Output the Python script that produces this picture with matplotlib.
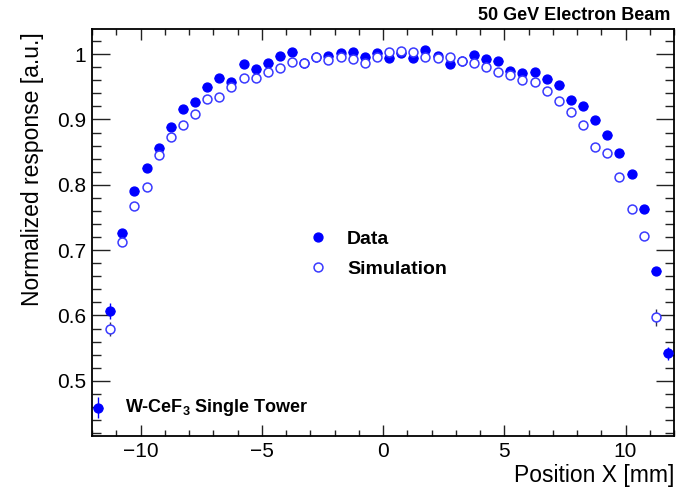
import matplotlib
matplotlib.use("Agg")
import matplotlib.pyplot as plt
from matplotlib.ticker import MultipleLocator

plt.rcParams['font.family'] = ['Liberation Sans', 'DejaVu Sans']
plt.rcParams['mathtext.fontset'] = 'custom'
plt.rcParams['mathtext.rm'] = 'Liberation Sans:bold'
plt.rcParams['mathtext.bf'] = 'Liberation Sans:bold'

# ---- data ----
data_x = [-11.75, -11.25, -10.75, -10.25, -9.75, -9.25, -8.75, -8.25, -7.75, -7.25,
          -6.75, -6.25, -5.75, -5.25, -4.75, -4.25, -3.75, -3.25, -2.75, -2.25,
          -1.75, -1.25, -0.75, -0.25, 0.25, 0.75, 1.25, 1.75, 2.25, 2.75,
          3.25, 3.75, 4.25, 4.75, 5.25, 5.75, 6.25, 6.75, 7.25, 7.75,
          8.25, 8.75, 9.25, 9.75, 10.25, 10.75, 11.25, 11.75]
data_y = [0.459, 0.607, 0.726, 0.790, 0.825, 0.857, 0.889, 0.916, 0.926, 0.949,
          0.963, 0.957, 0.985, 0.977, 0.986, 0.997, 1.003, 0.986, 0.995, 0.997,
          1.002, 1.004, 0.995, 1.002, 0.994, 1.002, 0.994, 1.006, 0.997, 0.985,
          0.990, 0.999, 0.993, 0.990, 0.974, 0.971, 0.972, 0.962, 0.953, 0.930,
          0.921, 0.899, 0.876, 0.848, 0.817, 0.763, 0.668, 0.542]
data_err = [0.016, 0.012, 0.007, 0.004, 0.004, 0.004, 0.004, 0.004, 0.004, 0.004,
            0.004, 0.004, 0.004, 0.004, 0.004, 0.004, 0.004, 0.004, 0.004, 0.004,
            0.004, 0.004, 0.004, 0.004, 0.004, 0.004, 0.004, 0.004, 0.004, 0.004,
            0.004, 0.004, 0.004, 0.004, 0.004, 0.004, 0.004, 0.004, 0.004, 0.004,
            0.004, 0.004, 0.004, 0.004, 0.004, 0.005, 0.006, 0.010]

sim_x = [-11.25, -10.75, -10.25, -9.75, -9.25, -8.75, -8.25, -7.75, -7.25,
         -6.75, -6.25, -5.75, -5.25, -4.75, -4.25, -3.75, -3.25, -2.75, -2.25,
         -1.75, -1.25, -0.75, -0.25, 0.25, 0.75, 1.25, 1.75, 2.25, 2.75,
         3.25, 3.75, 4.25, 4.75, 5.25, 5.75, 6.25, 6.75, 7.25, 7.75,
         8.25, 8.75, 9.25, 9.75, 10.25, 10.75, 11.25]
sim_y = [0.579, 0.713, 0.767, 0.797, 0.846, 0.873, 0.892, 0.908, 0.931,
         0.935, 0.950, 0.964, 0.964, 0.972, 0.979, 0.988, 0.986, 0.995, 0.991,
         0.996, 0.992, 0.986, 0.996, 1.003, 1.005, 1.003, 0.996, 0.994, 0.995,
         0.990, 0.986, 0.981, 0.972, 0.968, 0.961, 0.957, 0.944, 0.929, 0.911,
         0.892, 0.858, 0.849, 0.812, 0.763, 0.721, 0.597]
sim_err = [0.011, 0.006, 0.003, 0.003, 0.003, 0.003, 0.003, 0.003, 0.003,
           0.003, 0.003, 0.003, 0.003, 0.003, 0.003, 0.003, 0.003, 0.003, 0.003,
           0.003, 0.003, 0.003, 0.003, 0.003, 0.003, 0.003, 0.003, 0.003, 0.003,
           0.003, 0.003, 0.003, 0.003, 0.003, 0.003, 0.003, 0.003, 0.003, 0.003,
           0.003, 0.003, 0.003, 0.003, 0.003, 0.005, 0.013]

x_ticks = [-10, -5, 0, 5, 10]
y_ticks = [0.5, 0.6, 0.7, 0.8, 0.9, 1.0]
y_ticklabels = ['0.5', '0.6', '0.7', '0.8', '0.9', '1']

# ---- figure ----
fig = plt.figure(figsize=(6.88, 4.87), dpi=100)
ax = fig.add_axes([92/688, 1-436/487, 582/688, 407/487])

blue = '#0000ff'
c_data = ax.errorbar(data_x, data_y, yerr=data_err, xerr=0.2, fmt='o', ms=6.4,
                     color=blue, mec=blue, mfc=blue, ecolor=blue, elinewidth=1.0,
                     capsize=0, zorder=3)
c_sim = ax.errorbar(sim_x, sim_y, yerr=sim_err, fmt='o', ms=6.4, mew=1.1,
                    color='#3a3aff', mec='#3a3aff', mfc='white', ecolor='#333355',
                    elinewidth=1.0, capsize=0, zorder=4)

ax.set_xlim(-12, 12)
ax.set_ylim(0.4155, 1.0385)
ax.set_xticks(x_ticks)
ax.set_xticklabels([str(t).replace('-', '\u2212') for t in x_ticks])
ax.set_yticks(y_ticks)
ax.set_yticklabels(y_ticklabels)
ax.xaxis.set_minor_locator(MultipleLocator(1))
ax.yaxis.set_minor_locator(MultipleLocator(0.02))

ax.tick_params(axis='both', which='both', direction='in', top=True, right=True,
               width=1.0, color='#222222')
ax.tick_params(axis='y', which='major', length=13, labelsize=15, pad=4)
ax.tick_params(axis='y', which='minor', length=6.5)
ax.tick_params(axis='x', which='major', length=8, labelsize=15, pad=4)
ax.tick_params(axis='x', which='minor', length=4)
for s in ax.spines.values():
    s.set_linewidth(1.3)

ax.set_xlabel('Position X [mm]', fontsize=16.5, loc='right')
ax.xaxis.set_label_coords(1.0, -0.07)
ax.set_ylabel('Normalized response [a.u.]', fontsize=16.5, loc='top')
ax.yaxis.set_label_coords(-0.083, 0.993)

fig.text(670/688, 1-15/487, '50 GeV Electron Beam', fontsize=13, fontweight='bold',
         ha='right', va='center')
ax.text(0.057, 0.07, r'W-CeF$_{\mathrm{3}}$ Single Tower', transform=ax.transAxes,
        fontsize=13, fontweight='bold', ha='left', va='center')

leg = ax.legend([c_data[0], c_sim[0]], ['Data', 'Simulation'], loc='center left',
                bbox_to_anchor=(308/688, 1-254/487), bbox_transform=fig.transFigure,
                frameon=False, prop={'weight': 'bold', 'size': 14},
                handlelength=1.0, handletextpad=1.0, labelspacing=0.62,
                borderpad=0.0, borderaxespad=0.0)

fig.savefig('out.png', dpi=100)
